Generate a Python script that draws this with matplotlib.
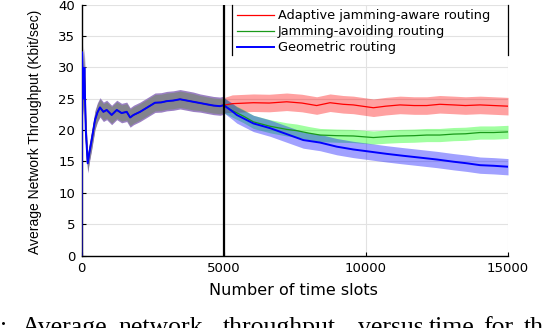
import matplotlib
matplotlib.use("Agg")
import matplotlib.pyplot as plt
import numpy as np
from matplotlib.lines import Line2D

plt.rcParams["font.family"] = "DejaVu Sans"

# ---------------------------------------------------------------- data --
JAM_START = 5000

# before jamming starts all three schemes behave the same
T_SHARED = [0, 20, 60, 100, 150, 217, 280, 358, 475, 560, 650, 770, 885,
            1060, 1240, 1410, 1590, 1710, 1830, 2060, 2350, 2585, 2800,
            2995, 3230, 3465, 3700, 3930, 4170, 4400, 4640, 4870, 5000]
V_SHARED = [0.0, 32.4, 25.0, 29.9, 20.0, 14.7, 16.5, 18.4, 21.6, 22.8,
            23.6, 22.9, 23.2, 22.4, 23.2, 22.7, 22.9, 22.0, 22.4, 22.9,
            23.7, 24.35, 24.4, 24.6, 24.7, 24.9, 24.7, 24.5, 24.3, 24.1,
            23.9, 23.8, 23.95]
SPREAD_SHARED = [0.3, 4.6, 2.5, 3.0, 2.0, 1.3, 1.3, 1.3, 1.3, 1.3, 1.3,
                 1.3, 1.3, 1.3, 1.3, 1.3, 1.3, 1.3, 1.3, 1.3, 1.3, 1.3,
                 1.3, 1.3, 1.3, 1.3, 1.3, 1.3, 1.2, 1.2, 1.2, 1.2, 1.2]

RED_T = [5300, 6045, 6600, 7215, 7750, 8270, 8740, 9200, 9560, 10265,
         10700, 11200, 11700, 12140, 12600, 13080, 13500, 14015, 14500,
         15000]
RED_V = [24.2, 24.35, 24.3, 24.5, 24.3, 23.9, 24.35, 24.1, 24.0, 23.55,
         23.8, 24.0, 23.9, 23.9, 24.1, 24.0, 23.9, 24.0, 23.9, 23.8]
RED_SPREAD = 1.4

GREEN_T = [5300, 5700, 6045, 6630, 7215, 7570, 8000, 8390, 8975, 9560,
           10265, 10735, 11200, 11700, 12140, 12600, 13080, 13500, 14015,
           14500, 15000]
GREEN_V = [23.1, 22.2, 21.3, 20.6, 20.1, 19.9, 19.5, 19.2, 19.1, 19.05,
           18.8, 18.95, 19.05, 19.1, 19.2, 19.2, 19.35, 19.4, 19.6, 19.6,
           19.7]
GREEN_SPREAD = 1.05

BLUE_T = [5300, 5460, 6045, 6630, 7215, 7800, 8390, 8975, 9560, 10150,
          10735, 11300, 11905, 12500, 13080, 13550, 14015, 14500, 15000]
BLUE_V = [23.0, 22.4, 21.05, 20.3, 19.35, 18.4, 18.0, 17.35, 16.9, 16.55,
          16.2, 15.9, 15.6, 15.3, 14.95, 14.7, 14.4, 14.3, 14.15]
BLUE_SPREAD = 1.3

LABELS = ["Adaptive jamming-aware routing", "Jamming-avoiding routing",
          "Geometric routing"]
X_TICKS = [0, 5000, 10000, 15000]
Y_TICKS = [0, 5, 10, 15, 20, 25, 30, 35, 40]

# --------------------------------------------------------------- figure --
fig = plt.figure(figsize=(5.56, 3.28), dpi=100)
ax = fig.add_axes([0.1466, 0.2210, 0.7671, 0.7652])

series = [
    (RED_T, RED_V, RED_SPREAD, "#ff0000", "#ff0000", 0.9),
    (GREEN_T, GREEN_V, GREEN_SPREAD, "#00ff00", "#1a9a1a", 0.9),
    (BLUE_T, BLUE_V, BLUE_SPREAD, "#0000ff", "#0000ff", 1.4),
]

# overlapping bands of the common phase look grey with a purple rim
ts = np.array(T_SHARED)
vs = np.array(V_SHARED)
ss = np.array(SPREAD_SHARED)
ax.fill_between(ts, vs - ss - 0.25, vs + ss + 0.25, color="#9b80c4", lw=0,
                zorder=2)
ax.fill_between(ts, vs - ss, vs + ss, color="#83838d", lw=0, zorder=2)

for tl, vl, sp, band_c, line_c, lw in series:
    t = np.array([T_SHARED[-1]] + tl)
    v = np.array([V_SHARED[-1]] + vl)
    s = np.array([SPREAD_SHARED[-1]] + [sp] * len(tl))
    ax.fill_between(t, v - s, v + s, color=band_c, alpha=0.37, lw=0,
                    zorder=2)

handles = []
for (tl, vl, sp, band_c, line_c, lw), lab in zip(series, LABELS):
    t = np.array(T_SHARED + tl)
    v = np.array(V_SHARED + vl)
    h, = ax.plot(t, v, color=line_c, lw=lw, zorder=3, label=lab)
    handles.append(h)

ax.axvline(JAM_START, color="black", lw=1.6, zorder=4)

ax.set_xlim(0, 15000)
ax.set_ylim(0, 40)
ax.set_xticks(X_TICKS)
ax.set_yticks(Y_TICKS)
ax.tick_params(direction="in", length=3, width=0.8, labelsize=9.5,
               colors="black")
ax.tick_params(axis="y", pad=4.5)
ax.tick_params(axis="x", pad=4.5)
ax.grid(True, color="#e2e2e2", lw=0.8, zorder=0)
ax.set_axisbelow(True)
for side in ["top", "right"]:
    ax.spines[side].set_visible(False)
for side in ["left", "bottom"]:
    ax.spines[side].set_linewidth(1.0)

ax.set_xlabel("Number of time slots", fontsize=11.5)
ax.xaxis.set_label_coords(0.497, -0.108)
ax.set_ylabel("Average Network Throughput (Kbit/sec)", fontsize=10,
              family="Liberation Sans")
ax.yaxis.set_label_coords(-0.092, 0.494)

leg = ax.legend(handles=handles, loc="upper left",
                bbox_to_anchor=(0.3646, 0.982), borderaxespad=0,
                borderpad=0, frameon=False, fontsize=9.3, handlelength=2.87,
                handletextpad=0.31, labelspacing=0.24)
for x in (0.353, 1.0):
    ax.add_line(Line2D([x, x], [0.799, 1.0], transform=ax.transAxes,
                       color="black", lw=0.9, clip_on=False, zorder=5))

# cut-off caption line underneath the plot
CAPTION_WORDS = [":", "Average", "network", "throughput", "versus", "time",
                 "for", "th"]
CAPTION_X = [0, 22, 118, 223, 358, 429, 483, 524]
for w, px in zip(CAPTION_WORDS, CAPTION_X):
    fig.text(px / 556, -0.018, w, family="Liberation Serif", fontsize=18.5,
             va="baseline", ha="left")

fig.savefig("out.png", dpi=100)
